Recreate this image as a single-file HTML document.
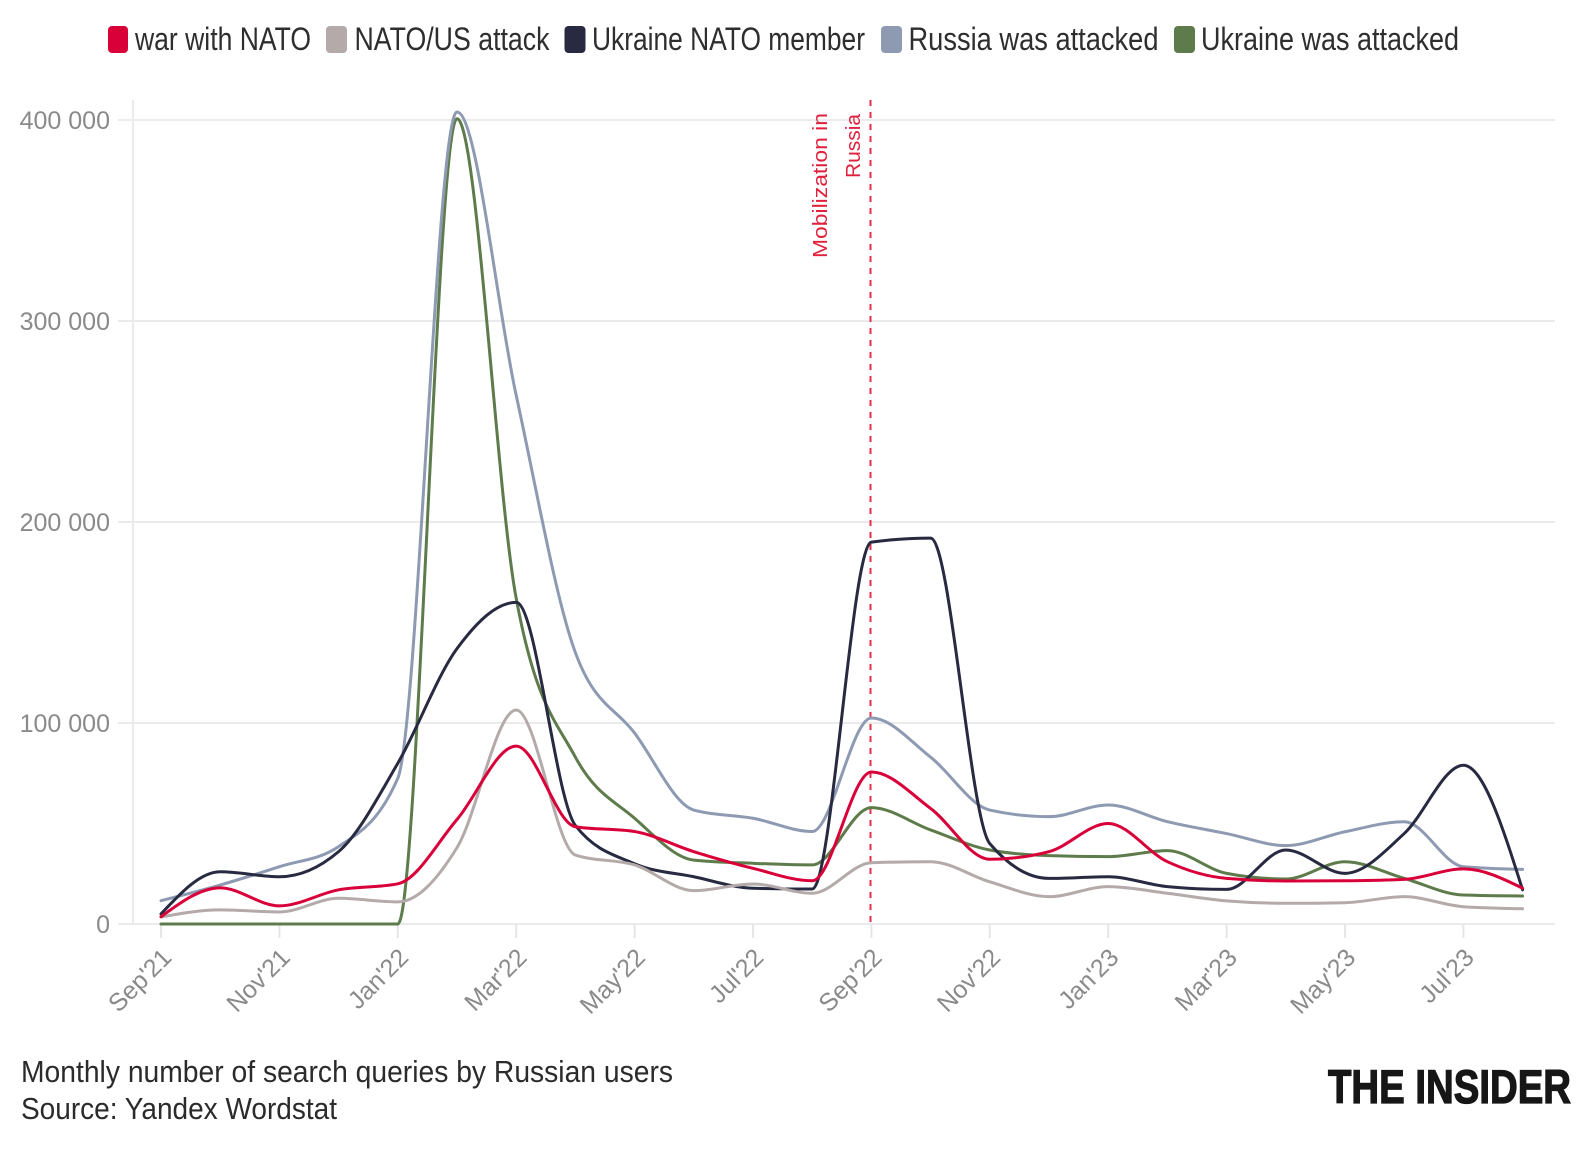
<!DOCTYPE html>
<html>
<head>
<meta charset="utf-8">
<style>
  html, body { margin: 0; padding: 0; background: #ffffff; }
  svg { display: block; }
  text { font-family: "Liberation Sans", "DejaVu Sans", sans-serif; }
</style>
</head>
<body>
<svg id="chart" width="1592" height="1150" viewBox="0 0 1592 1150" xmlns="http://www.w3.org/2000/svg">
  <rect x="0" y="0" width="1592" height="1150" fill="#ffffff"/>

  <!-- Legend -->
  <g font-size="32" fill="#2e2e2e">
    <rect x="108" y="26" width="20" height="27" rx="4" fill="#d9003a"/>
    <text x="135" y="50" textLength="176" lengthAdjust="spacingAndGlyphs">war with NATO</text>
    <rect x="326" y="26" width="21" height="27" rx="4" fill="#b3aaa9"/>
    <text x="354.5" y="50" textLength="195" lengthAdjust="spacingAndGlyphs">NATO/US attack</text>
    <rect x="564.5" y="26" width="21" height="27" rx="4" fill="#272a40"/>
    <text x="592" y="50" textLength="273" lengthAdjust="spacingAndGlyphs">Ukraine NATO member</text>
    <rect x="881" y="26" width="21" height="27" rx="4" fill="#8d9ab2"/>
    <text x="908.5" y="50" textLength="250" lengthAdjust="spacingAndGlyphs">Russia was attacked</text>
    <rect x="1174" y="26" width="21" height="27" rx="4" fill="#5e7b4b"/>
    <text x="1201" y="50" textLength="258" lengthAdjust="spacingAndGlyphs">Ukraine was attacked</text>
  </g>

  <!-- Gridlines -->
  <g stroke="#ebebeb" stroke-width="2">
    <line x1="118" y1="120" x2="1555" y2="120"/>
    <line x1="118" y1="321" x2="1555" y2="321"/>
    <line x1="118" y1="522" x2="1555" y2="522"/>
    <line x1="118" y1="723" x2="1555" y2="723"/>
    <line x1="118" y1="924" x2="1555" y2="924"/>
    <line x1="133" y1="100" x2="133" y2="924"/>
  </g>
  <g id="xticks" stroke="#e6e6e6" stroke-width="2"></g>

  <!-- Y labels -->
  <g font-size="25" fill="#8a8a8a" text-anchor="end">
    <text x="110" y="129">400 000</text>
    <text x="110" y="330">300 000</text>
    <text x="110" y="531">200 000</text>
    <text x="110" y="732">100 000</text>
    <text x="110" y="933">0</text>
  </g>

  <!-- X labels -->
  <g font-size="25" fill="#8a8a8a" text-anchor="end">
    <text transform="translate(173,959) rotate(-45)">Sep'21</text>
    <text transform="translate(291.4,959) rotate(-45)">Nov'21</text>
    <text transform="translate(409.8,959) rotate(-45)">Jan'22</text>
    <text transform="translate(528.2,959) rotate(-45)">Mar'22</text>
    <text transform="translate(646.6,959) rotate(-45)">May'22</text>
    <text transform="translate(765,959) rotate(-45)">Jul'22</text>
    <text transform="translate(883.4,959) rotate(-45)">Sep'22</text>
    <text transform="translate(1001.8,959) rotate(-45)">Nov'22</text>
    <text transform="translate(1120.2,959) rotate(-45)">Jan'23</text>
    <text transform="translate(1238.6,959) rotate(-45)">Mar'23</text>
    <text transform="translate(1357,959) rotate(-45)">May'23</text>
    <text transform="translate(1475.4,959) rotate(-45)">Jul'23</text>
  </g>

  <!-- Mobilization annotation -->
  <line x1="870.5" y1="100" x2="870.5" y2="924" stroke="#e5304a" stroke-width="2" stroke-dasharray="6,6"/>
  <g font-size="20" fill="#e0203c" text-anchor="end">
    <text transform="translate(827,113) rotate(-90)" textLength="145" lengthAdjust="spacingAndGlyphs">Mobilization in</text>
    <text transform="translate(860,114) rotate(-90)" textLength="64" lengthAdjust="spacingAndGlyphs">Russia</text>
  </g>

  <!-- Series -->
  <g id="series" fill="none" stroke-width="3" stroke-linejoin="round" stroke-linecap="round"></g>

  <!-- Footer -->
  <g font-size="31" fill="#2b2b2b">
    <text x="21" y="1082" textLength="652" lengthAdjust="spacingAndGlyphs">Monthly number of search queries by Russian users</text>
    <text x="21" y="1119" textLength="316" lengthAdjust="spacingAndGlyphs">Source: Yandex Wordstat</text>
  </g>
  <text x="1328" y="1103" font-size="47" font-weight="bold" fill="#161616" stroke="#161616" stroke-width="1.3" textLength="243" lengthAdjust="spacingAndGlyphs">THE INSIDER</text>
</svg>

<script>
(function(){
  var NS = "http://www.w3.org/2000/svg";
  function X(i){ return 161 + 59.2 * i; }
  function Y(k){ return 924 - 2.01 * k; }

  // x ticks
  var tg = document.getElementById("xticks");
  for (var k = 0; k < 12; k++) {
    var l = document.createElementNS(NS, "line");
    var x = X(2*k);
    l.setAttribute("x1", x); l.setAttribute("x2", x);
    l.setAttribute("y1", 924); l.setAttribute("y2", 938);
    tg.appendChild(l);
  }

  function monotone(xs, ys){
    var n = xs.length, t = new Array(n), i;
    function sgn(v){ return v < 0 ? -1 : (v > 0 ? 1 : 0); }
    for (i = 1; i < n-1; i++) {
      var h0 = xs[i]-xs[i-1], h1 = xs[i+1]-xs[i];
      var s0 = (ys[i]-ys[i-1])/h0, s1 = (ys[i+1]-ys[i])/h1;
      var p = (s0*h1 + s1*h0)/(h0+h1);
      t[i] = (sgn(s0)+sgn(s1)) * Math.min(Math.abs(s0), Math.abs(s1), 0.5*Math.abs(p)) || 0;
    }
    var h = xs[1]-xs[0];
    t[0] = (3*(ys[1]-ys[0])/h - t[1])/2;
    var h2 = xs[n-1]-xs[n-2];
    t[n-1] = (3*(ys[n-1]-ys[n-2])/h2 - t[n-2])/2;
    var d = "M" + xs[0].toFixed(2) + "," + ys[0].toFixed(2);
    for (i = 0; i < n-1; i++) {
      var dx = (xs[i+1]-xs[i])/3;
      d += "C" + (xs[i]+dx).toFixed(2) + "," + (ys[i]+dx*t[i]).toFixed(2) + " " +
           (xs[i+1]-dx).toFixed(2) + "," + (ys[i+1]-dx*t[i+1]).toFixed(2) + " " +
           xs[i+1].toFixed(2) + "," + ys[i+1].toFixed(2);
    }
    return d;
  }

  var series = [
    { c: "#5e7b4b", v: [0,0,0,0,0,400.6,162,83,52.6,31.8,30.2,29.4,57.9,46.8,36.8,34,33.5,36.5,25.2,22.4,31,22.7,14.4,13.9] },
    { c: "#8d9ab2", v: [11.6,19.4,28.5,38.5,72.5,404,263,135,95,56.7,52.6,46,102.5,83,56.7,53.4,59.2,50.9,45,39,45.9,50.9,28.5,27.2] },
    { c: "#272a40", v: [5,26,23.5,36,80,137,160,49,30,23.5,17.8,17.4,190,192,40,22.7,23.5,18.6,17.2,36.8,25.2,45,79,17] },
    { c: "#b3aaa9", v: [3.5,7,6,12.8,11,38,106.5,34.3,29.4,16.6,19.9,15.3,30.5,31,21,13.6,18.6,15.3,11.5,10.3,10.6,13.6,8.6,7.6] },
    { c: "#d9003a", v: [3.6,18,9,17,20,52,88.5,48.4,46,36,27.7,21.5,75.6,57.5,32.2,36,50,31,22.7,21.4,21.5,22.2,27.4,17.8] }
  ];

  var g = document.getElementById("series");
  series.forEach(function(s){
    var xs = [], ys = [];
    for (var i = 0; i < s.v.length; i++) { xs.push(X(i)); ys.push(Y(s.v[i])); }
    var p = document.createElementNS(NS, "path");
    p.setAttribute("d", monotone(xs, ys));
    p.setAttribute("stroke", s.c);
    g.appendChild(p);
  });
})();
</script>
</body>
</html>
